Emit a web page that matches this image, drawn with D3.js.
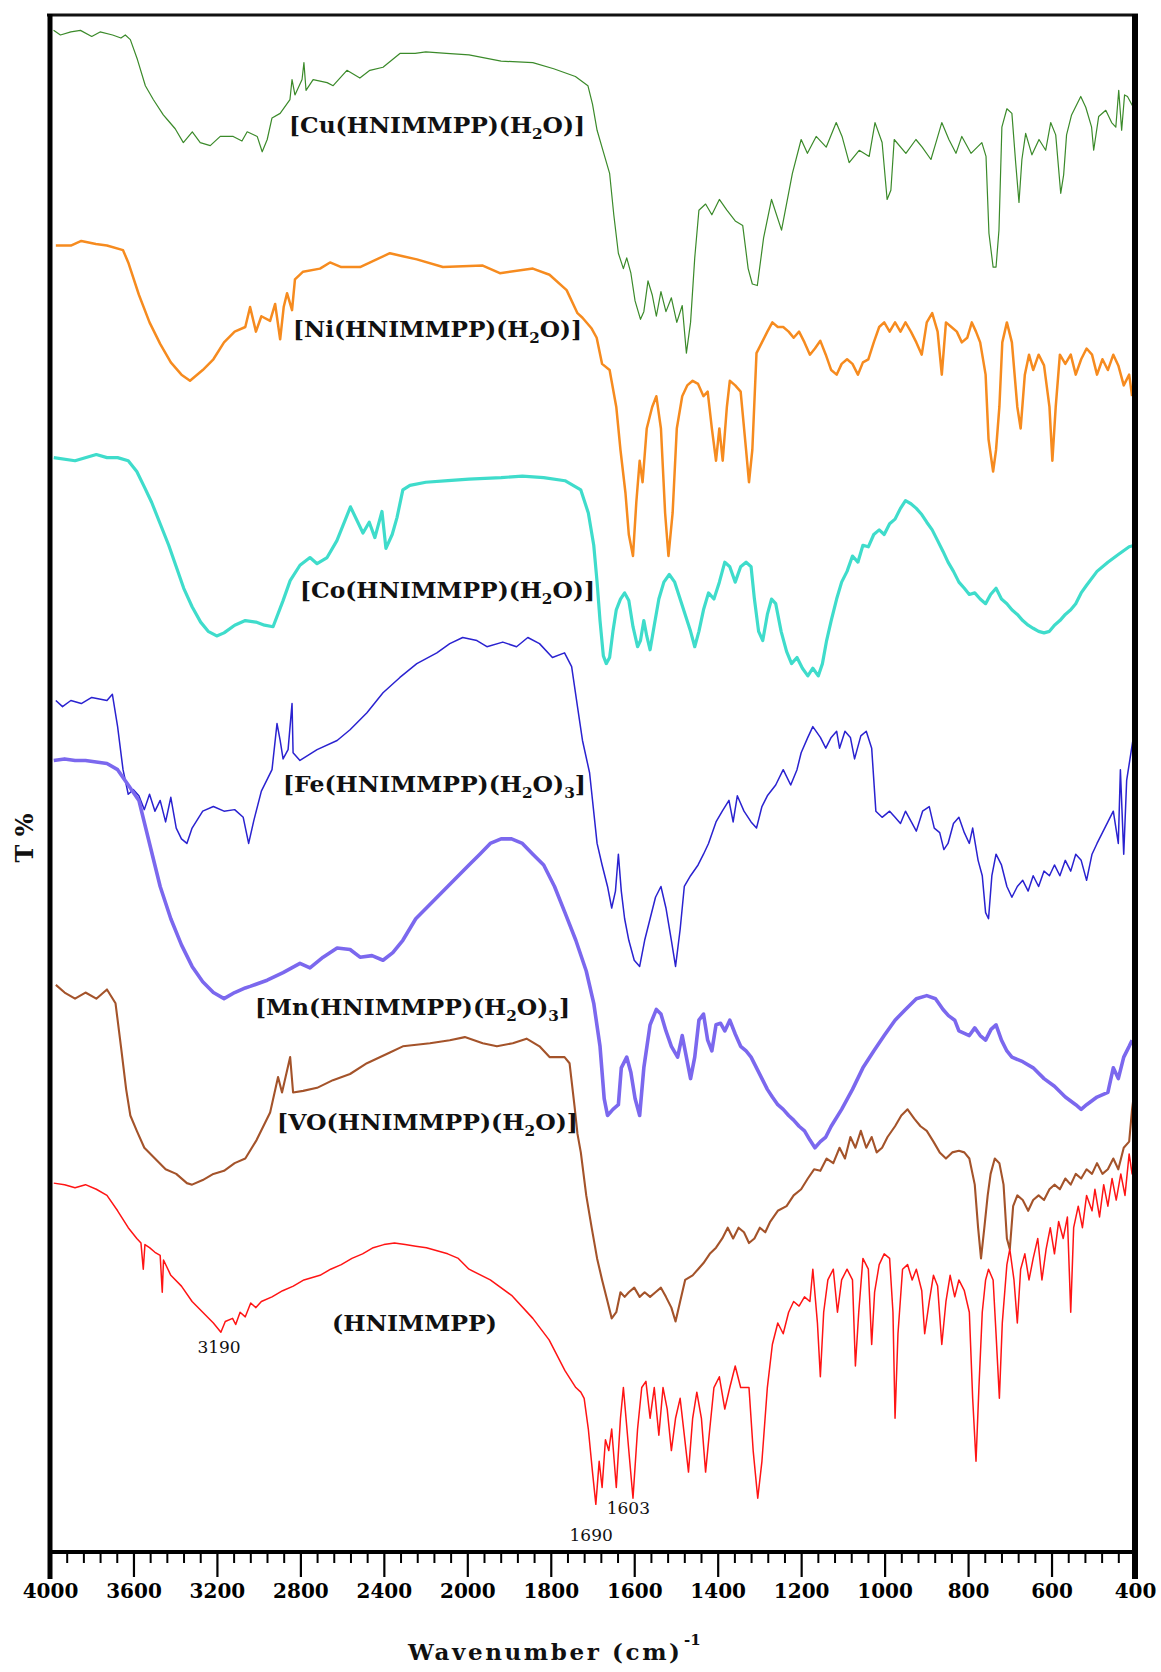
<!DOCTYPE html>
<html>
<head>
<meta charset="utf-8">
<script src="https://cdn.jsdelivr.net/npm/d3@7"></script>
<style>
  html, body { margin: 0; padding: 0; background: #ffffff; }
  svg { display: block; }
  .tick text { font-family: "DejaVu Serif", serif; font-weight: bold; font-size: 20px; fill: #000; }
</style>
</head>
<body>
<svg id="chart" width="1161" height="1672"></svg>
<script>
// Stacked FTIR spectra: [wavenumber (cm-1), stacked T %]
const cuData = [[3983,99.0],[3950,98.7],[3900,98.9],[3854,99.0],[3800,98.6],[3760,98.9],[3700,98.7],[3660,98.5],[3639,98.7],[3615,98.4],[3581,97.1],[3543,95.4],[3505,94.5],[3457,93.5],[3438,93.2],[3400,92.6],[3361,91.7],[3318,92.4],[3280,91.7],[3232,91.5],[3184,92.1],[3122,92.1],[3080,91.8],[3055,92.4],[3007,92.1],[2983,91.1],[2959,91.9],[2936,93.3],[2897,93.6],[2850,94.5],[2840,95.8],[2826,94.8],[2792,95.8],[2783,96.9],[2773,95.1],[2739,95.8],[2672,95.6],[2643,95.4],[2577,96.4],[2515,95.9],[2467,96.4],[2404,96.6],[2323,97.5],[2250,97.5],[2199,97.6],[2100,97.5],[1996,97.4],[1919,97.0],[1843,96.9],[1793,96.5],[1741,96.0],[1711,95.4],[1700,94.2],[1689,92.5],[1674,91.1],[1659,89.7],[1649,87.0],[1638,84.5],[1626,83.5],[1618,84.2],[1608,83.2],[1598,81.4],[1585,80.2],[1577,80.7],[1567,82.7],[1557,81.8],[1547,80.4],[1536,82.0],[1524,80.7],[1511,81.6],[1498,80.0],[1485,81.1],[1475,78.0],[1465,80.0],[1455,84.2],[1445,87.3],[1429,87.7],[1414,87.0],[1396,88.0],[1378,87.3],[1358,86.6],[1340,86.3],[1327,83.5],[1317,82.5],[1305,82.4],[1290,85.5],[1271,88.0],[1247,86.0],[1221,89.7],[1200,91.9],[1185,91.0],[1164,92.1],[1140,91.4],[1116,93.0],[1102,92.1],[1085,90.4],[1061,91.2],[1037,90.8],[1023,93.0],[1006,91.7],[994,88.0],[985,88.6],[977,91.9],[949,91.0],[925,91.9],[910,91.4],[889,90.6],[877,91.7],[863,93.0],[846,91.9],[829,91.0],[815,92.1],[793,91.0],[767,91.7],[757,90.8],[750,85.8],[740,83.6],[733,83.6],[726,86.0],[719,92.7],[707,93.9],[695,93.6],[686,90.4],[678,87.8],[671,90.6],[662,92.3],[647,90.9],[630,91.9],[614,91.2],[602,93.0],[590,92.2],[578,88.4],[571,89.6],[564,92.2],[552,93.5],[530,94.7],[518,94.0],[504,92.7],[499,91.2],[487,93.4],[470,93.8],[456,93.0],[446,92.7],[439,95.1],[432,92.5],[425,94.8],[418,94.7],[406,94.1]];

const niData = [[3972,85.0],[3900,85.0],[3850,85.3],[3780,85.1],[3727,85.0],[3650,84.7],[3625,83.9],[3574,81.8],[3523,80.0],[3472,78.6],[3421,77.4],[3370,76.6],[3329,76.2],[3268,76.9],[3217,77.6],[3166,78.7],[3115,79.4],[3064,79.7],[3041,81.0],[3013,79.4],[2987,80.4],[2945,80.1],[2921,81.2],[2897,78.9],[2880,81.0],[2864,81.9],[2840,80.8],[2826,82.8],[2787,83.3],[2706,83.5],[2658,83.9],[2604,83.6],[2514,83.6],[2450,84.0],[2371,84.5],[2309,84.3],[2242,84.1],[2117,83.6],[1963,83.7],[1922,83.2],[1843,83.5],[1803,83.1],[1762,82.1],[1736,80.6],[1724,80.3],[1702,79.6],[1690,79.0],[1677,77.3],[1659,76.9],[1643,74.5],[1633,71.7],[1621,68.9],[1613,66.2],[1603,64.8],[1595,68.3],[1587,71.0],[1580,69.6],[1570,73.1],[1557,74.5],[1547,75.2],[1536,73.1],[1526,67.6],[1518,64.8],[1508,67.6],[1498,73.1],[1485,75.2],[1473,75.9],[1460,76.2],[1447,76.0],[1434,75.2],[1424,75.5],[1414,73.1],[1404,71.0],[1396,73.1],[1388,71.0],[1378,74.5],[1371,76.2],[1358,75.9],[1345,75.5],[1332,71.7],[1325,69.6],[1317,71.7],[1307,78.0],[1294,78.7],[1281,79.4],[1269,80.0],[1256,79.7],[1243,79.7],[1230,79.4],[1218,79.0],[1205,79.4],[1192,78.7],[1179,77.9],[1167,78.3],[1154,78.8],[1141,77.9],[1128,76.9],[1115,76.6],[1103,77.3],[1090,77.6],[1077,77.3],[1064,76.6],[1052,77.4],[1039,77.6],[1026,78.7],[1013,79.7],[1001,80.0],[988,79.4],[975,80.0],[962,79.4],[950,80.0],[937,79.4],[924,78.7],[911,77.9],[899,80.0],[886,80.6],[873,79.4],[863,76.6],[853,80.0],[840,79.7],[827,79.4],[815,78.7],[802,79.0],[791,80.0],[781,79.4],[771,78.7],[758,76.6],[751,72.4],[740,70.3],[733,71.7],[725,74.5],[718,78.7],[707,80.0],[695,78.7],[682,74.5],[674,73.1],[664,76.6],[654,77.9],[644,76.9],[631,77.9],[618,77.2],[605,74.5],[598,71.0],[590,74.5],[580,77.9],[567,77.3],[554,77.9],[542,76.6],[529,77.6],[516,78.3],[503,77.9],[491,76.6],[478,77.6],[465,76.9],[452,77.9],[440,77.2],[427,75.9],[414,76.6],[407,75.2]];

const coData = [[3982,71.2],[3880,71.0],[3778,71.4],[3727,71.2],[3676,71.2],[3625,71.0],[3584,70.3],[3548,69.3],[3513,68.3],[3472,66.9],[3431,65.5],[3395,64.1],[3359,62.7],[3319,61.5],[3278,60.5],[3242,59.9],[3201,59.6],[3166,59.8],[3115,60.3],[3064,60.6],[3013,60.5],[2972,60.3],[2931,60.2],[2883,61.9],[2849,63.2],[2802,64.2],[2754,64.7],[2720,64.3],[2672,64.7],[2625,65.8],[2560,68.0],[2500,66.3],[2470,67.0],[2443,66.0],[2409,67.7],[2390,65.3],[2360,66.2],[2337,67.3],[2309,69.1],[2275,69.4],[2199,69.6],[2093,69.7],[1996,69.8],[1919,69.9],[1868,70.0],[1817,69.9],[1766,69.7],[1728,69.1],[1710,67.6],[1697,65.5],[1689,63.1],[1682,60.6],[1674,58.3],[1667,57.8],[1659,58.2],[1651,59.9],[1643,61.3],[1633,62.0],[1623,62.4],[1613,61.9],[1603,60.2],[1592,58.9],[1585,59.3],[1577,60.6],[1570,59.6],[1562,58.7],[1552,60.3],[1541,62.0],[1529,63.1],[1516,63.6],[1503,63.1],[1490,62.0],[1478,61.0],[1465,59.9],[1455,58.9],[1445,59.9],[1434,61.3],[1422,62.4],[1409,62.0],[1396,63.1],[1383,64.4],[1371,64.1],[1358,63.1],[1345,64.1],[1332,64.4],[1320,64.1],[1312,62.0],[1302,59.9],[1292,59.3],[1281,61.0],[1271,62.0],[1261,61.7],[1248,59.9],[1235,58.6],[1223,57.8],[1210,58.2],[1197,57.5],[1184,57.0],[1172,57.5],[1159,57.0],[1149,57.8],[1139,59.3],[1128,60.6],[1115,62.0],[1103,63.1],[1090,63.8],[1077,64.8],[1064,64.4],[1052,65.5],[1039,65.4],[1026,66.2],[1013,66.5],[1001,66.2],[988,66.9],[975,67.2],[962,67.9],[950,68.4],[937,68.2],[924,67.9],[911,67.5],[899,67.0],[886,66.5],[873,65.8],[860,65.1],[848,64.4],[835,63.8],[822,63.1],[809,62.7],[797,62.3],[784,62.4],[771,62.0],[758,61.7],[746,62.3],[733,62.7],[720,62.0],[707,61.7],[695,61.3],[682,61.0],[669,60.6],[656,60.3],[644,60.1],[631,59.9],[618,59.8],[605,59.9],[593,60.3],[580,60.6],[567,61.0],[554,61.3],[542,61.7],[529,62.4],[516,62.9],[491,63.8],[465,64.4],[440,64.9],[414,65.4],[401,65.5]];

const feData = [[3972,55.4],[3940,55.0],[3900,55.4],[3850,55.2],[3800,55.6],[3727,55.4],[3701,55.8],[3676,53.7],[3650,50.9],[3625,49.3],[3600,49.6],[3574,49.2],[3548,48.3],[3523,49.3],[3497,48.2],[3472,48.9],[3446,47.5],[3421,49.1],[3395,47.1],[3370,46.4],[3344,46.1],[3319,47.1],[3268,48.2],[3217,48.5],[3166,48.2],[3115,48.3],[3074,47.8],[3048,46.1],[3023,47.6],[2987,49.5],[2936,50.9],[2912,53.9],[2897,52.8],[2883,51.6],[2859,52.2],[2840,55.2],[2835,52.0],[2802,51.5],[2720,52.2],[2624,52.8],[2562,53.5],[2481,54.6],[2404,55.9],[2323,56.9],[2242,57.8],[2146,58.5],[2084,59.1],[2022,59.5],[1977,59.3],[1953,58.9],[1915,59.2],[1882,58.9],[1855,59.5],[1827,59.1],[1796,58.2],[1767,58.5],[1750,57.6],[1736,55.0],[1724,52.8],[1707,50.7],[1689,46.1],[1677,44.7],[1664,43.3],[1654,41.9],[1645,43.0],[1638,45.4],[1631,43.0],[1623,41.2],[1613,39.8],[1600,38.5],[1587,38.1],[1575,39.8],[1562,41.2],[1549,42.6],[1536,43.3],[1524,41.9],[1511,39.8],[1501,38.1],[1490,40.5],[1480,43.3],[1465,44.0],[1447,44.7],[1434,45.4],[1422,46.1],[1404,47.5],[1389,48.2],[1373,48.9],[1363,47.5],[1353,49.2],[1337,48.2],[1320,47.5],[1307,47.1],[1294,48.5],[1281,49.2],[1261,49.9],[1243,50.9],[1225,49.9],[1210,50.9],[1200,52.0],[1184,53.0],[1172,53.7],[1154,53.0],[1141,52.3],[1128,53.0],[1115,53.4],[1108,52.3],[1095,53.4],[1082,53.0],[1072,51.6],[1057,53.1],[1044,53.4],[1031,52.3],[1021,48.2],[1006,47.8],[988,48.2],[975,47.8],[962,47.4],[950,48.2],[934,47.4],[924,46.9],[909,48.2],[893,48.5],[881,47.1],[868,46.8],[858,45.7],[848,46.1],[835,47.4],[822,47.8],[809,46.8],[797,46.1],[789,47.1],[776,45.0],[766,44.0],[758,41.6],[751,41.2],[743,44.0],[733,45.4],[720,44.7],[707,43.3],[695,42.6],[682,43.3],[669,43.7],[656,43.0],[644,44.0],[631,43.3],[618,44.3],[605,44.0],[593,44.7],[580,44.0],[567,45.0],[554,44.3],[542,45.4],[529,45.0],[516,43.7],[503,45.4],[491,46.1],[478,46.8],[465,47.5],[452,48.2],[440,46.1],[435,50.9],[427,45.4],[420,50.2],[412,51.6],[404,53.0],[401,53.5]];

const mnData = [[3982,51.5],[3930,51.6],[3880,51.5],[3830,51.5],[3727,51.3],[3676,50.9],[3625,49.9],[3574,48.9],[3523,46.1],[3472,43.3],[3421,41.2],[3370,39.5],[3319,38.1],[3268,37.1],[3217,36.4],[3166,36.0],[3115,36.4],[3064,36.7],[3041,36.8],[2959,37.2],[2883,37.7],[2802,38.3],[2754,38.0],[2691,38.7],[2624,39.3],[2562,39.2],[2514,38.7],[2457,38.8],[2404,38.5],[2357,39.0],[2309,39.8],[2247,41.2],[2196,41.9],[2145,42.6],[2094,43.3],[2043,44.0],[1996,44.7],[1970,45.4],[1945,46.1],[1919,46.4],[1894,46.4],[1868,46.1],[1843,45.4],[1817,44.7],[1791,43.3],[1766,41.6],[1740,39.8],[1715,37.8],[1697,35.7],[1682,32.9],[1672,29.5],[1664,28.4],[1651,28.8],[1638,29.1],[1631,31.5],[1618,32.2],[1608,31.2],[1598,29.5],[1587,28.4],[1577,31.5],[1562,34.3],[1547,35.3],[1536,35.0],[1524,33.9],[1511,32.9],[1496,32.2],[1485,33.6],[1475,32.2],[1465,30.8],[1455,32.2],[1445,34.6],[1434,35.0],[1424,33.3],[1414,32.6],[1404,34.3],[1393,34.4],[1383,33.9],[1371,34.6],[1358,33.7],[1345,32.9],[1332,32.6],[1320,32.2],[1307,31.5],[1294,30.8],[1281,30.1],[1269,29.6],[1256,29.1],[1243,28.8],[1230,28.4],[1218,28.1],[1205,27.7],[1192,27.4],[1179,26.8],[1167,26.3],[1154,26.7],[1141,27.0],[1128,27.7],[1103,28.8],[1077,30.1],[1052,31.5],[1026,32.6],[1001,33.6],[975,34.6],[950,35.3],[924,36.0],[899,36.2],[878,36.0],[860,35.3],[847,34.9],[832,34.6],[822,33.9],[797,33.6],[784,34.1],[771,33.6],[758,33.3],[745,34.0],[733,34.3],[720,33.3],[707,32.6],[695,32.2],[669,31.9],[644,31.5],[618,30.8],[593,30.3],[567,29.6],[542,29.1],[529,28.8],[516,29.1],[491,29.6],[465,29.9],[452,31.5],[440,30.8],[427,32.2],[414,32.9],[407,33.3]];

const voData = [[3972,36.9],[3930,36.4],[3880,36.0],[3830,36.4],[3778,36.0],[3727,36.6],[3686,35.7],[3660,32.9],[3635,30.1],[3615,28.4],[3584,27.4],[3548,26.3],[3497,25.6],[3446,24.9],[3395,24.6],[3344,24.0],[3319,23.9],[3268,24.2],[3217,24.6],[3166,24.8],[3115,25.3],[3064,25.6],[3010,26.8],[2945,28.6],[2907,30.9],[2888,29.9],[2849,32.2],[2835,29.9],[2787,30.0],[2720,30.2],[2644,30.7],[2562,31.1],[2481,31.8],[2371,32.5],[2309,32.9],[2179,33.1],[2084,33.3],[2012,33.5],[1963,33.1],[1929,32.9],[1891,33.1],[1858,33.4],[1827,32.9],[1803,32.2],[1767,32.2],[1755,31.8],[1743,29.0],[1736,27.2],[1728,26.0],[1715,23.2],[1702,21.1],[1689,19.1],[1677,17.7],[1664,16.3],[1654,15.2],[1643,15.6],[1633,16.9],[1623,16.6],[1613,16.9],[1600,17.2],[1587,16.6],[1575,16.9],[1562,16.6],[1549,16.9],[1536,17.2],[1524,16.6],[1511,15.9],[1501,15.0],[1490,16.3],[1478,17.7],[1460,18.0],[1447,18.4],[1434,18.8],[1419,19.4],[1404,19.8],[1389,20.4],[1376,21.1],[1363,20.4],[1350,21.1],[1337,20.8],[1325,20.1],[1312,20.4],[1299,21.1],[1286,20.8],[1274,21.5],[1256,22.2],[1235,22.5],[1218,23.2],[1200,23.6],[1184,24.3],[1169,24.9],[1154,24.8],[1139,25.6],[1123,25.3],[1108,26.3],[1095,25.6],[1082,27.0],[1070,26.3],[1057,27.4],[1044,26.3],[1031,27.0],[1019,26.0],[1006,26.3],[993,27.0],[975,27.7],[960,28.4],[945,28.8],[929,28.2],[914,27.7],[899,27.4],[883,26.7],[868,26.0],[853,25.6],[838,26.0],[822,26.1],[809,26.0],[797,25.6],[784,23.9],[776,21.1],[769,19.1],[761,21.1],[753,23.2],[746,24.6],[736,25.6],[725,25.3],[715,23.9],[707,20.4],[700,19.7],[692,22.5],[682,23.2],[669,22.9],[656,22.2],[644,22.9],[631,23.2],[618,22.9],[605,23.6],[593,23.9],[580,23.6],[567,24.3],[554,23.9],[542,24.6],[529,24.3],[516,24.9],[503,24.6],[491,25.3],[478,24.6],[465,24.9],[452,25.6],[440,24.9],[427,26.3],[414,26.7],[407,28.8],[401,30.1]];

const hnData = [[3982,24.0],[3930,23.9],[3880,23.7],[3830,23.9],[3778,23.6],[3727,23.2],[3676,22.2],[3625,21.1],[3584,20.4],[3564,20.1],[3553,18.4],[3545,20.0],[3523,19.8],[3497,19.5],[3472,19.3],[3462,16.9],[3456,19.0],[3421,18.0],[3370,17.3],[3319,16.3],[3268,15.6],[3217,14.9],[3181,14.3],[3160,15.0],[3125,15.2],[3110,14.8],[3089,15.6],[3064,15.3],[3038,16.2],[3013,15.9],[2987,16.3],[2936,16.6],[2885,17.0],[2834,17.3],[2783,17.7],[2706,18.0],[2655,18.4],[2604,18.7],[2553,19.1],[2502,19.4],[2451,19.8],[2400,20.0],[2349,20.1],[2298,20.0],[2247,19.9],[2196,19.8],[2145,19.6],[2094,19.4],[2043,19.1],[1996,18.4],[1945,17.7],[1894,16.7],[1843,15.2],[1804,13.8],[1766,11.8],[1740,10.7],[1728,10.4],[1720,10.0],[1710,8.0],[1700,5.2],[1692,3.1],[1684,5.9],[1677,4.2],[1669,7.3],[1661,6.6],[1654,8.0],[1643,4.2],[1633,8.7],[1626,10.7],[1613,6.6],[1603,3.5],[1592,8.0],[1582,10.7],[1572,11.1],[1562,8.7],[1552,10.7],[1541,7.6],[1531,10.7],[1521,9.3],[1511,6.6],[1501,8.7],[1490,10.0],[1480,7.6],[1470,5.2],[1460,8.7],[1450,10.4],[1439,8.7],[1429,5.2],[1419,8.0],[1409,10.7],[1396,11.4],[1383,9.3],[1371,10.7],[1358,12.1],[1345,10.7],[1325,10.7],[1315,6.6],[1304,3.5],[1294,5.9],[1281,10.7],[1269,13.5],[1256,14.9],[1243,14.2],[1230,15.6],[1218,16.3],[1205,16.0],[1192,16.6],[1179,16.3],[1172,18.4],[1161,14.9],[1154,11.4],[1146,15.6],[1136,17.7],[1123,18.4],[1113,15.6],[1103,17.7],[1090,18.4],[1077,17.7],[1070,12.1],[1062,15.6],[1052,19.1],[1039,18.4],[1031,13.5],[1024,16.9],[1013,18.7],[1001,19.4],[988,19.1],[980,15.6],[975,8.7],[968,14.2],[957,18.4],[945,18.7],[934,17.7],[924,18.4],[911,17.0],[904,14.2],[893,16.3],[883,18.0],[873,17.3],[863,13.5],[853,16.3],[843,18.0],[832,16.6],[822,17.7],[809,17.0],[797,15.6],[789,10.0],[781,5.9],[774,10.7],[766,15.6],[758,17.7],[751,18.4],[740,17.7],[733,14.2],[725,10.0],[718,14.9],[707,18.7],[700,19.7],[690,17.7],[682,14.9],[674,18.4],[664,19.4],[654,17.7],[644,19.1],[633,20.4],[623,17.7],[613,19.7],[603,21.1],[593,19.4],[583,21.5],[572,20.4],[562,21.8],[554,15.6],[547,21.1],[536,22.5],[526,21.1],[516,23.2],[503,22.2],[496,23.6],[485,21.8],[475,23.9],[465,22.5],[455,24.3],[445,22.9],[434,24.6],[424,23.2],[414,25.9],[407,24.6],[401,24.9]];

// Series: label parts (text, subscript flag), colour, stroke width
const seriesNames = ["Cu", "Ni", "Co", "Fe", "Mn", "VO", "HNIMMPP"];
const seriesColors = ["#3b8a2a", "#f68b1f", "#3fdccb", "#2a22d0", "#7b68ee", "#a4532a", "#ff1414"];
const seriesWidths = [1.2, 2.5, 3.2, 1.5, 3.6, 2.1, 1.5];
const seriesValues = [cuData, niData, coData, feData, mnData, voData, hnData];
const seriesLabels = [
  [["[Cu(HNIMMPP)(H", false], ["2", true], ["O)]", false]],
  [["[Ni(HNIMMPP)(H", false], ["2", true], ["O)]", false]],
  [["[Co(HNIMMPP)(H", false], ["2", true], ["O)]", false]],
  [["[Fe(HNIMMPP)(H", false], ["2", true], ["O)", false], ["3", true], ["]", false]],
  [["[Mn(HNIMMPP)(H", false], ["2", true], ["O)", false], ["3", true], ["]", false]],
  [["[VO(HNIMMPP)(H", false], ["2", true], ["O)]", false]],
  [["(HNIMMPP)", false]]
];
const labelAnchors = [[289, 133, 296], [293, 337, 289], [300, 598, 295], [283, 792, 303], [255, 1015, 315], [277, 1130, 301], [332, 1331, 165]];

// Peak annotations: [text, x-anchor wavenumber, T position]
const peakNotes = [["3190", 3190, 12.95], ["1603", 1666, 2.5], ["1690", 1755, 0.7]];

const majorTicks = [4000, 3600, 3200, 2800, 2400, 2000, 1800, 1600, 1400, 1200, 1000, 800, 600, 400];

const svg = d3.select("#chart");
const plotL = 50, plotR = 1135, plotT = 15, plotB = 1552;

// Wavenumber axis with the usual 2x expansion below 2000 cm-1
const x = d3.scaleLinear().domain([4000, 2000, 400]).range([plotL, plotL + 5 * (plotR - plotL) / 13, plotR]);
const y = d3.scaleLinear().domain([0, 100]).range([plotB, plotT]);

const minorTicks = d3.range(4000, 2000, -80).concat(d3.range(2000, 399, -40))
  .filter(v => !majorTicks.includes(v));

// Spectra
const line = d3.line().x(d => x(d[0])).y(d => y(d[1]));
seriesValues.forEach((data, i) => {
  svg.append("path")
    .datum(data)
    .attr("d", line)
    .attr("fill", "none")
    .attr("stroke", seriesColors[i])
    .attr("stroke-width", seriesWidths[i])
    .attr("stroke-linejoin", "round");
});

// Series labels (subscripts shifted down, following text shifted back)
seriesLabels.forEach((parts, i) => {
  const [lx, ly, lw] = labelAnchors[i];
  const t = svg.append("text")
    .attr("x", lx).attr("y", ly)
    .attr("font-family", "DejaVu Serif, serif")
    .attr("font-weight", "bold")
    .attr("font-size", 23)
    .attr("fill", "#111")
    .attr("textLength", lw)
    .attr("lengthAdjust", "spacingAndGlyphs");
  parts.forEach(([s, sub], j) => {
    const ts = t.append("tspan").text(s);
    if (sub) ts.attr("font-size", 15).attr("dy", 6);
    else if (j > 0 && parts[j - 1][1]) ts.attr("dy", -6);
  });
});

// Peak annotations
peakNotes.forEach(([txt, wn, tv]) => {
  svg.append("text")
    .attr("x", x(wn)).attr("y", y(tv))
    .attr("text-anchor", txt === "3190" ? "middle" : "start")
    .attr("font-family", "DejaVu Serif, serif")
    .attr("font-size", 17)
    .attr("fill", "#111")
    .text(txt);
});

// Axes
const axisG = svg.append("g").attr("transform", `translate(0,${plotB})`);
axisG.append("g")
  .call(d3.axisBottom(x).tickValues(minorTicks).tickSize(11).tickFormat(""))
  .call(g => g.select(".domain").remove())
  .call(g => g.selectAll(".tick line").attr("stroke", "#000").attr("stroke-width", 2));
axisG.append("g")
  .call(d3.axisBottom(x).tickValues(majorTicks).tickSize(25).tickPadding(7).tickFormat(d3.format("d")))
  .call(g => g.select(".domain").remove())
  .call(g => g.selectAll(".tick line").attr("stroke", "#000").attr("stroke-width", 2.2));

// Frame
svg.append("line").attr("x1", plotL - 3).attr("x2", plotR + 3).attr("y1", plotT).attr("y2", plotT)
  .attr("stroke", "#111").attr("stroke-width", 3);
svg.append("line").attr("x1", plotL).attr("x2", plotR).attr("y1", plotB).attr("y2", plotB)
  .attr("stroke", "#000").attr("stroke-width", 4);
svg.append("line").attr("x1", plotL).attr("x2", plotL).attr("y1", plotT - 1).attr("y2", 1579)
  .attr("stroke", "#000").attr("stroke-width", 5);
svg.append("line").attr("x1", plotR).attr("x2", plotR).attr("y1", plotT - 1).attr("y2", 1579)
  .attr("stroke", "#000").attr("stroke-width", 6);

// Axis titles
svg.append("text")
  .attr("x", 408).attr("y", 1660)
  .attr("font-family", "DejaVu Serif, serif").attr("font-weight", "bold")
  .attr("font-size", 23).attr("fill", "#111")
  .attr("textLength", 272).attr("lengthAdjust", "spacing")
  .text("Wavenumber (cm)");
svg.append("text")
  .attr("x", 684).attr("y", 1645)
  .attr("font-family", "DejaVu Serif, serif").attr("font-weight", "bold")
  .attr("font-size", 15).attr("fill", "#111")
  .text("-1");

svg.append("text")
  .attr("transform", "translate(33,838) rotate(-90)")
  .attr("text-anchor", "middle")
  .attr("font-family", "DejaVu Serif, serif").attr("font-weight", "bold")
  .attr("font-size", 24).attr("fill", "#111")
  .text("T %");
</script>
</body>
</html>
